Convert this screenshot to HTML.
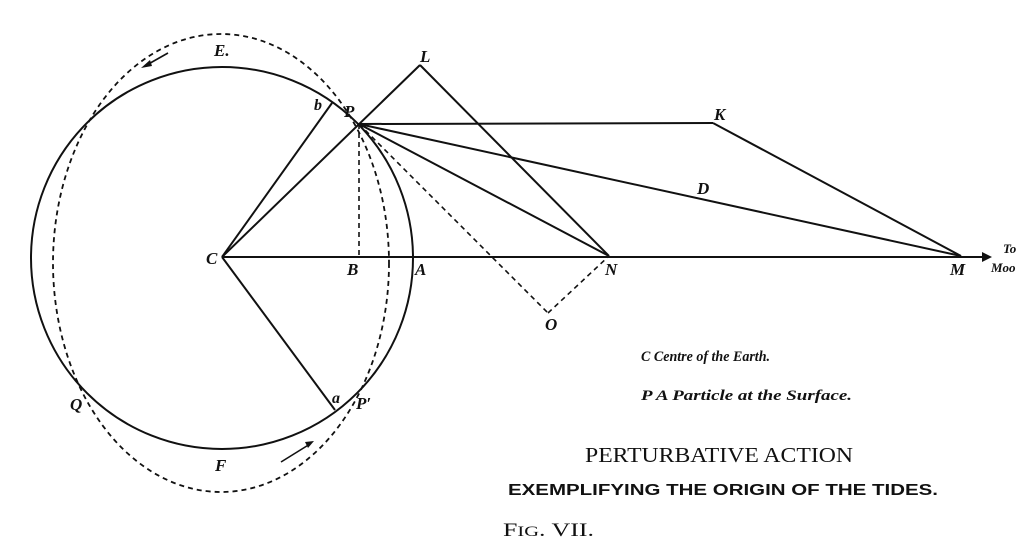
<!DOCTYPE html>
<html><head><meta charset="utf-8"><style>
html,body{margin:0;padding:0;background:#fff;}
svg{display:block;}
.it{font-family:"Liberation Serif",serif;font-style:italic;font-weight:bold;fill:#111;}
</style></head><body>
<svg width="1024" height="557" viewBox="0 0 1024 557" xmlns="http://www.w3.org/2000/svg">
<g stroke="#111" fill="none" stroke-width="2">
<circle cx="222" cy="258" r="191"/>
<ellipse cx="221" cy="263" rx="168" ry="229" stroke-dasharray="5,4" stroke-width="1.8"/>
<line x1="222" y1="257" x2="990" y2="257"/>
<polygon points="992,257 982,252 982,262" fill="#111" stroke="none"/>
<line x1="222" y1="257" x2="332" y2="103"/>
<line x1="222" y1="257" x2="335" y2="410"/>
<line x1="222" y1="257" x2="420" y2="65"/>
<line x1="420" y1="65" x2="609" y2="256"/>
<line x1="359" y1="124" x2="713" y2="123"/>
<line x1="713" y1="123" x2="961" y2="256"/>
<line x1="359" y1="124" x2="961" y2="256"/>
<line x1="359" y1="124" x2="609" y2="256"/>
<g stroke-dasharray="5,4" stroke-width="1.6">
<line x1="359" y1="124" x2="359" y2="257"/>
<line x1="359" y1="124" x2="548" y2="313"/>
<line x1="548" y1="313" x2="609" y2="256"/>
</g>
<line x1="168" y1="53" x2="145" y2="66" stroke-width="1.6"/>
<line x1="281" y1="462" x2="310" y2="444" stroke-width="1.6"/>
</g>
<polygon points="141,68 150,60 152,66" fill="#111"/>
<polygon points="314,441 305,442 308,448" fill="#111"/>
<g class="it" font-size="17">
<text x="214" y="56">E.</text>
<text x="420" y="62">L</text>
<text x="314" y="110" font-size="16">b</text>
<text x="344" y="117">P</text>
<text x="714" y="120">K</text>
<text x="697" y="194">D</text>
<text x="206" y="264">C</text>
<text x="347" y="275">B</text>
<text x="415" y="275">A</text>
<text x="605" y="275">N</text>
<text x="950" y="275">M</text>
<text x="545" y="330">O</text>
<text x="332" y="403" font-size="16">a</text>
<text x="356" y="409">P′</text>
<text x="70" y="410">Q</text>
<text x="215" y="471">F</text>
<text x="1003" y="253" font-size="13">To</text>
<text x="991" y="272" font-size="13">Moo</text>
<text x="641" y="361" font-size="15" textLength="129" lengthAdjust="spacingAndGlyphs">C Centre of the Earth.</text>
<text x="641" y="400" font-size="15" textLength="211" lengthAdjust="spacingAndGlyphs">P A Particle at the Surface.</text>
</g>
<text x="585" y="462" font-family="Liberation Serif,serif" font-size="21" fill="#111" textLength="268" lengthAdjust="spacingAndGlyphs">PERTURBATIVE ACTION</text>
<text x="508" y="495" font-family="Liberation Sans,sans-serif" font-weight="bold" font-size="16" fill="#111" textLength="430" lengthAdjust="spacingAndGlyphs">EXEMPLIFYING THE ORIGIN OF THE TIDES.</text>
<text x="503" y="536" font-family="Liberation Serif,serif" font-size="19" fill="#111" textLength="91" lengthAdjust="spacingAndGlyphs">F<tspan font-size="15">IG</tspan>. VII.</text>
</svg>
</body></html>
